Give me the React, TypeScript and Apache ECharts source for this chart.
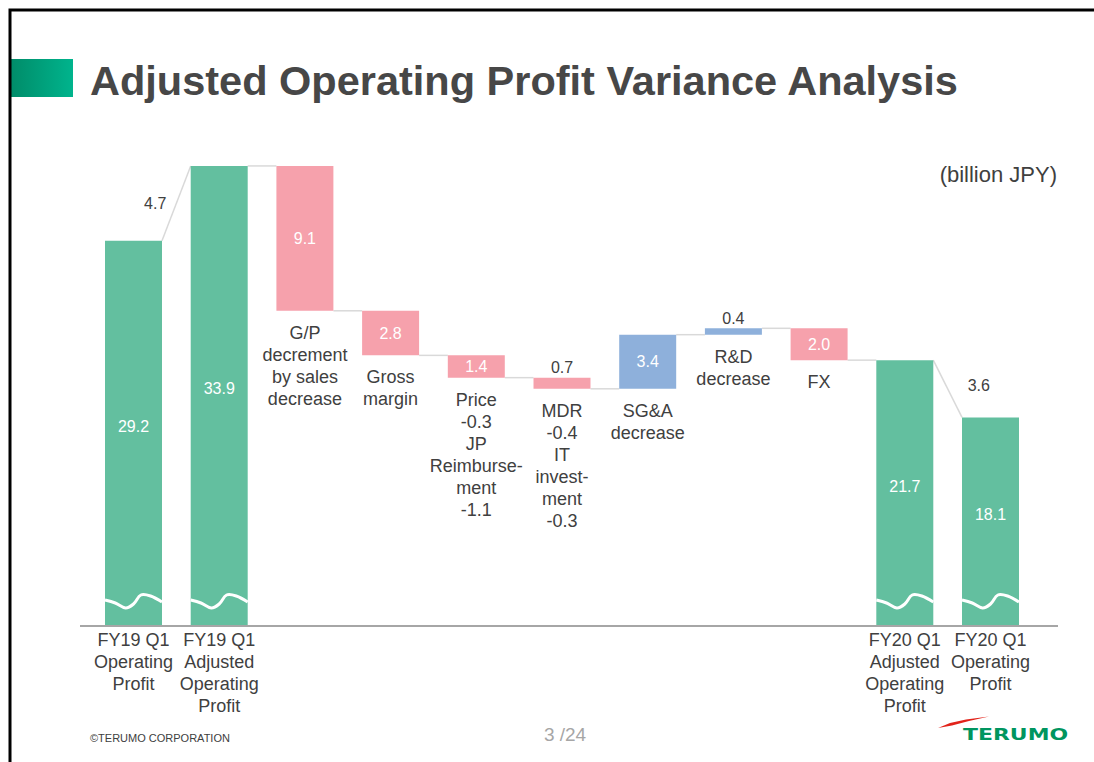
import React, { useEffect, useRef } from 'react';
import * as echarts from 'echarts';

// ---------- data ----------
const categories = [
  'FY19 Q1\nOperating\nProfit',
  'FY19 Q1\nAdjusted\nOperating\nProfit',
  'G/P\ndecrement\nby sales\ndecrease',
  'Gross\nmargin',
  'Price\n-0.3\nJP\nReimburse-\nment\n-1.1',
  'MDR\n-0.4\nIT\ninvest-\nment\n-0.3',
  'SG&A\ndecrease',
  'R&D\ndecrease',
  'FX',
  'FY20 Q1\nAdjusted\nOperating\nProfit',
  'FY20 Q1\nOperating\nProfit',
];
const kinds = ['total', 'total', 'down', 'down', 'down', 'down', 'up', 'up', 'down', 'total', 'total'];
const values = [29.2, 33.9, 9.1, 2.8, 1.4, 0.7, 3.4, 0.4, 2.0, 21.7, 18.1];

const TITLE = 'Adjusted Operating Profit Variance Analysis';
const UNIT = '(billion JPY)';
const COPYRIGHT = '©TERUMO CORPORATION';
const PAGE = '3 /24';
const LOGO = 'TERUMO';

// ---------- styles ----------
const FONT = '"Liberation Sans", Arial, Helvetica, sans-serif';
const Y_MIN = 5;
const Y_MAX = 36;
const BAR_RATIO = 0.665;
const TEXT = '#404040';
const COLORS: Record<string, string> = { total: '#63bf9f', down: '#f6a1ac', up: '#8eb0db' };
const WAVE: number[][] = [
  [0, -26], [0.18, -23], [0.36, -18], [0.5, -22], [0.63, -31], [0.8, -30], [1, -24],
];

export default function App() {
  const ref = useRef<HTMLDivElement>(null);

  useEffect(() => {
    document.body.style.margin = '0';
    const chart = echarts.init(ref.current as HTMLDivElement, null, { renderer: 'svg' });

    // waterfall levels
    const bars: number[][] = [];
    let level = 0;
    values.forEach((v, i) => {
      const k = kinds[i];
      let low: number;
      let high: number;
      if (k === 'total') {
        low = 0; high = v; level = v;
      } else if (k === 'down') {
        high = level; low = +(level - v).toFixed(2); level = low;
      } else {
        low = level; high = +(level + v).toFixed(2); level = high;
      }
      bars.push([i, low, high]);
    });
    const startLevel = (i: number) => (kinds[i] === 'up' ? bars[i][1] : bars[i][2]);
    const endLevel = (i: number) => (kinds[i] === 'down' ? bars[i][1] : bars[i][2]);
    const connectors: number[][] = [];
    for (let i = 0; i < bars.length - 1; i++) connectors.push([i, endLevel(i), startLevel(i + 1)]);

    const renderBar = (params: any, api: any) => {
      const i = params.dataIndex;
      const low = api.value(1);
      const high = api.value(2);
      const kind = kinds[i];
      const band = api.size([1, 0])[0];
      const w = band * BAR_RATIO;
      const top = api.coord([i, high]);
      const bot = api.coord([i, Math.max(low, Y_MIN)]);
      const cx = top[0];
      const x0 = cx - w / 2;
      const h = bot[1] - top[1];
      const label = values[i].toFixed(1);
      const children: any[] = [
        { type: 'rect', shape: { x: x0, y: top[1], width: w, height: h }, style: { fill: COLORS[kind] } },
      ];
      if (kind === 'total') {
        children.push({
          type: 'text', x: cx, y: (top[1] + bot[1]) / 2 - 7,
          style: { text: label, fill: '#ffffff', fontSize: 16, fontFamily: FONT, align: 'center', verticalAlign: 'middle' },
        });
        const pts = WAVE.map(([fx, dy]) => [x0 + fx * w, bot[1] + dy]);
        children.push({
          type: 'polyline', shape: { points: pts, smooth: 0.35 },
          style: { stroke: '#ffffff', lineWidth: 3, fill: 'none' },
        });
      } else {
        if (h >= 18) {
          children.push({
            type: 'text', x: cx, y: (top[1] + bot[1]) / 2,
            style: { text: label, fill: '#ffffff', fontSize: 16, fontFamily: FONT, align: 'center', verticalAlign: 'middle' },
          });
        } else {
          children.push({
            type: 'text', x: cx, y: top[1] - 10,
            style: { text: label, fill: TEXT, fontSize: 16, fontFamily: FONT, align: 'center', verticalAlign: 'middle' },
          });
        }
        children.push({
          type: 'text', x: cx, y: bot[1] + 11,
          style: {
            text: categories[i], fill: TEXT, fontSize: 18, lineHeight: 22, fontFamily: FONT,
            align: 'center', verticalAlign: 'top',
          },
        });
      }
      return { type: 'group', children };
    };

    const renderConn = (params: any, api: any) => {
      const i = params.dataIndex;
      const from = api.value(1);
      const to = api.value(2);
      const band = api.size([1, 0])[0];
      const w = band * BAR_RATIO;
      const p1 = api.coord([i, from]);
      const p2 = api.coord([i + 1, to]);
      const x1 = p1[0] + w / 2;
      const x2 = p2[0] - w / 2;
      const children: any[] = [
        { type: 'line', shape: { x1, y1: p1[1], x2, y2: p2[1] }, style: { stroke: '#d9d9d9', lineWidth: 1.5 } },
      ];
      const diff = Math.abs(to - from);
      if (diff > 0.05) {
        const mx = (x1 + x2) / 2;
        const my = (p1[1] + p2[1]) / 2;
        const rising = to > from;
        children.push({
          type: 'text', x: rising ? mx - 10 : mx + 20, y: rising ? my : my - 3,
          style: {
            text: diff.toFixed(1), fill: TEXT, fontSize: 16, fontFamily: FONT,
            align: rising ? 'right' : 'left', verticalAlign: 'middle',
          },
        });
      }
      return { type: 'group', children };
    };

    const option: any = {
      animation: false,
      grid: { left: 90.65, right: 60.65, top: 132.5, bottom: 136, containLabel: false, outerBoundsMode: 'none' },
      xAxis: {
        type: 'category',
        data: categories,
        axisLine: { show: false },
        axisTick: { show: false },
        splitLine: { show: false },
        axisLabel: {
          interval: 0,
          margin: 3,
          fontSize: 18,
          lineHeight: 22,
          color: TEXT,
          fontFamily: FONT,
          formatter: (val: string, idx: number) => (kinds[idx] === 'total' ? val : ''),
        },
      },
      yAxis: { type: 'value', min: Y_MIN, max: Y_MAX, show: false, splitLine: { show: false } },
      series: [
        {
          type: 'custom', name: 'connectors', data: connectors, encode: { x: 0, y: [1, 2] },
          renderItem: renderConn, z: 1, silent: true,
        },
        {
          type: 'custom', name: 'bars', data: bars, encode: { x: 0, y: [1, 2] },
          renderItem: renderBar, z: 2, silent: true,
        },
      ],
      graphic: [
        {
          type: 'polyline', z: 10,
          shape: { points: [[10, 762], [10, 10], [1094, 10]] },
          style: { stroke: '#000000', lineWidth: 3, fill: 'none' },
        },
        {
          type: 'rect', shape: { x: 11, y: 59, width: 62, height: 38 },
          style: {
            fill: new echarts.graphic.LinearGradient(0, 0, 1, 0, [
              { offset: 0, color: '#008c69' },
              { offset: 1, color: '#00b48d' },
            ]),
          },
        },
        {
          type: 'text', x: 90, y: 80,
          style: { text: TITLE, fill: '#474747', fontSize: 41.5, fontWeight: 'bold', fontFamily: FONT, verticalAlign: 'middle' },
        },
        {
          type: 'text', x: 1057, y: 174,
          style: { text: UNIT, fill: TEXT, fontSize: 22, fontFamily: FONT, align: 'right', verticalAlign: 'middle' },
        },
        {
          type: 'line', z: 5, shape: { x1: 80, y1: 626, x2: 1058, y2: 626 },
          style: { stroke: '#a6a6a6', lineWidth: 2 },
        },
        {
          type: 'text', x: 90, y: 738,
          style: { text: COPYRIGHT, fill: TEXT, fontSize: 11, fontFamily: FONT, verticalAlign: 'middle' },
        },
        {
          type: 'text', x: 565, y: 734,
          style: { text: PAGE, fill: '#a6a6a6', fontSize: 19, fontFamily: FONT, align: 'center', verticalAlign: 'middle' },
        },
        {
          type: 'polygon',
          shape: { points: [[938, 728], [950, 723], [966, 719.5], [989, 716.5], [969, 721], [952, 725.5]] },
          style: { fill: '#e2231a' },
        },
        {
          type: 'text', x: 963, y: 734.5, scaleX: 1.33,
          style: {
            text: LOGO, fill: '#00955f', fontSize: 16.5, fontWeight: 'bold',
            fontFamily: '"DejaVu Sans", sans-serif', verticalAlign: 'middle',
          },
        },
      ],
    };

    chart.setOption(option);
    return () => chart.dispose();
  }, []);

  return <div ref={ref} style={{ width: 1094, height: 762 }} />;
}
